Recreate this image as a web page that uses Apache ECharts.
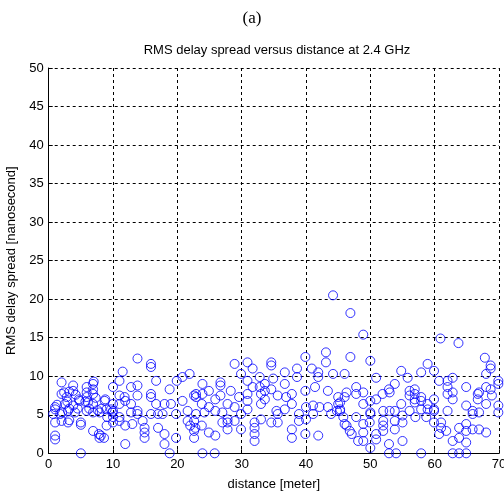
<!DOCTYPE html>
<html>
<head>
<meta charset="utf-8">
<script src="https://cdn.jsdelivr.net/npm/echarts@6/dist/echarts.min.js"></script>
<style>html,body{margin:0;padding:0;background:#fff;}#c{width:504px;height:496px;}</style>
</head>
<body>
<div id="c"></div>
<script>
const xTicks = [0, 10, 20, 30, 40, 50, 60, 70];
const yTicks = [0, 5, 10, 15, 20, 25, 30, 35, 40, 45, 50];
const distance = [
0.7,1,1,1,1,1,1.3,1.8,2,2,2,2.1,2.4,2.5,2.8,2.9,3,3,3.2,3.2,3.2,3.8,3.8,3.8,4.1,4.2,4.5,4.7,4.8,5,5,5,5.7,5.9,5.9,5.9,5.9,6.1,6.3,6.9,6.9,6.9,6.9,6.9,6.9,7.0,7.3,7.6,7.8,7.9,7.9,8.1,8.2,8.6,8.7,8.8,9,9,9.1,9.7,9.9,
10,10,10,10,10,11,11,11,11,11,11.5,11.8,11.9,11.9,11.9,12.8,12.8,12.8,13,13.8,13.8,13.8,13.8,13.8,14.6,14.9,14.9,14.9,15.9,15.9,15.9,15.9,15.9,16.7,16.7,17,17,17.7,18,18,18,18.8,18.8,19,19.8,19.8,19.9,
20.8,20.8,21.6,21.6,21.9,22,22.6,22.6,22.9,22.9,22.6,22.9,22.6,22.8,23.9,23.9,23.8,24.2,23.8,23.9,24.9,24.9,24.9,25.8,25.9,25.9,25.9,26.7,26.7,26.7,27,27,27.8,27.8,27.8,27.8,28.3,28.9,28.9,28.9,29.6,29.9,29.9,29.9,
30.9,30.9,30.9,30.9,30.9,31.7,31.7,32,32,32,32,32.8,32.8,33,33,33,33.6,33.6,33.6,34.6,34.6,34.9,34.6,34.6,35.4,35.6,35.6,35.6,36.7,36.7,36.9,36.7,37.8,37.8,37.8,38.6,38.6,38.9,38.9,37.8,39.9,39.9,40,40,39.9,
40.9,41.1,41.1,41.4,41.9,41.9,41.9,42.1,43.1,43.1,43.4,43.4,44.2,44.2,43.9,45,45,44.8,45.3,45.8,46,46.3,46.3,46.9,46.9,48.9,50,46,45.3,45.3,46,46.8,47.1,47.8,47.8,48.1,47.8,48.9,48.9,48.9,48.9,48.9,
50,50,50,50,49.9,50.9,50.9,50.9,50.9,51.9,52,52,52,52,52.9,53,53,52.9,52.9,53.8,53.8,53.8,53.8,54,54.8,54.8,55,55,55,55.8,56.1,56.1,56.1,56.9,56.9,56.9,56.9,57,57.9,57.9,57.9,57.9,57.9,58.9,58.9,58.9,58.7,59.9,59.9,59.9,59.9,59.9,
60.7,60.9,60.7,61,61,62,62,62,62,61.8,62.8,62.8,62.8,62.8,62.8,63.7,63.8,63.8,63.8,64.9,64.9,64.9,64.9,64.9,64.9,65.9,65.9,65.9,66.7,66.7,66.9,66.9,68,68,67.8,68.7,68.7,68,68.7,68.9,69.9,69.9,69.9,69.9,68,66.9
];
const delaySpread = [
5.1,6.0,5.7,4.0,2.3,1.8,6.3,5.1,9.2,7.7,4.2,5.3,7.9,6.4,7.3,6.7,5.5,4,8.0,5.8,4.3,8.8,8.1,6.2,5.3,7.6,5.8,7.0,6.8,4,3.7,0,6.7,7.9,8.6,7.3,5.5,6.6,5.8,9.0,8.3,7.7,6.4,5.3,2.9,9.3,7.2,5.6,2.5,5.3,2.0,2.3,5.8,2.0,6.8,7.0,3.6,5.7,4.7,5.7,5.3,
8.6,6.4,5.5,4.7,4.0,9.4,7.5,6.4,4.7,4.2,10.6,7.3,6.8,1.2,3.6,8.6,6.4,5.3,3.8,12.3,8.8,7.5,5.5,5.1,4.2,3.3,2.7,2.0,11.6,11.2,7.7,7.3,5.1,9.4,6.4,3.3,5.1,5.1,2.5,1.2,6.4,8.3,0,6.4,5.1,2.0,9.4,
9.9,6.8,5.5,4.2,10.3,3.6,2.9,2.0,7.7,7.3,7.5,5.1,4.2,3.3,9.0,7.7,6.4,5.3,3.6,0,8.1,6.0,2.7,0,7.0,5.5,2.3,9.2,8.8,7.5,5.3,4.0,6.4,4.4,4.0,3.1,8.1,11.6,6.0,4.2,7.3,10.3,5.1,3.1,
11.8,9.4,7.7,6.8,5.7,11.0,8.6,3.3,2.5,1.6,4.0,9.9,8.6,7.7,6.4,4.4,9.0,8.1,7.0,11.8,11.4,9.7,8.3,4.0,5.5,5.1,4.0,7.5,10.5,9.0,7.3,5.7,7.7,3.1,6.4,11.0,9.9,5.1,4.2,2.0,12.5,8.1,6.0,4.4,2.5,
11.0,6.2,5.1,8.6,2.3,10.5,9.9,6.0,13.1,11.8,8.1,6.0,20.5,10.3,5.1,7.3,6.4,5.5,5.5,4.7,10.3,7.9,3.6,18.2,12.5,15.4,12.0,7.3,6.6,5.7,3.8,2.9,2.5,8.6,7.7,1.6,4.7,7.9,6.4,3.8,2.7,1.6,
6.8,5.3,5.1,0.7,4.0,9.8,7.0,2.5,1.8,7.7,4.2,3.6,2.9,5.5,8.3,7.9,5.5,1.2,0,9.0,5.5,4.2,3.1,0,10.7,6.4,4.9,4.0,1.6,9.8,8.1,7.5,5.5,8.3,7.7,7.0,6.6,4.7,10.5,7.3,6.8,0,5.7,11.6,6.4,5.7,4.7,10.7,7.0,5.7,5.5,4.0,
9.4,14.9,2.5,4.0,3.3,9.4,8.6,7.7,5.5,2.9,9.8,7.9,7.0,1.6,0,14.3,3.3,2.0,0,8.6,6.2,3.8,2.9,1.4,0,5.5,5.1,3.1,7.7,7.0,5.3,3.1,6.4,2.7,12.4,11.4,11.0,10.3,8.3,7.5,9.4,9.0,6.2,5.3,8.6,7.9
];
const points = distance.map((d, i) => [d, delaySpread[i]]);

const chart = echarts.init(document.getElementById('c'), null, {renderer: 'canvas'});
const font = 'Liberation Sans, Arial, sans-serif';
chart.setOption({
  animation: false,
  backgroundColor: '#fff',
  title: [
    {text: '(a)', left: 'center', top: 5, textStyle: {fontFamily: 'Liberation Serif, Times New Roman, serif', fontSize: 17, fontWeight: 'normal', color: '#000'}},
    {text: 'RMS delay spread versus distance at 2.4 GHz', left: 272, textAlign: 'center', top: 39, textStyle: {fontFamily: font, fontSize: 13, fontWeight: 'normal', color: '#000'}}
  ],
  grid: {left: 48.7, right: 5, top: 68, bottom: 42.7, containLabel: false, outerBoundsMode: 'none'},
  xAxis: {
    type: 'value', min: xTicks[0], max: xTicks[xTicks.length - 1], interval: 10,
    name: 'distance [meter]', nameLocation: 'middle', nameGap: 25,
    nameTextStyle: {fontFamily: font, fontSize: 13, color: '#000'},
    axisLine: {show: true, lineStyle: {color: '#000', width: 1}},
    axisTick: {show: true, inside: true, length: 4, lineStyle: {color: '#000'}},
    axisLabel: {fontFamily: font, fontSize: 13, color: '#000', margin: 5, hideOverlap: false},
    splitLine: {show: true, lineStyle: {color: '#000', type: [3, 3], width: 1}}
  },
  yAxis: {
    type: 'value', min: yTicks[0], max: yTicks[yTicks.length - 1], interval: 5,
    name: 'RMS delay spread [nanosecond]', nameLocation: 'middle', nameGap: 30,
    nameTextStyle: {fontFamily: font, fontSize: 13, color: '#000'},
    axisLine: {show: true, lineStyle: {color: '#000', width: 1}},
    axisTick: {show: true, inside: true, length: 4, lineStyle: {color: '#000'}},
    axisLabel: {fontFamily: font, fontSize: 13, color: '#000', margin: 5},
    splitLine: {show: true, lineStyle: {color: '#000', type: [3, 3], width: 1}}
  },
  series: [{
    type: 'scatter',
    data: points,
    symbol: 'circle',
    symbolSize: 9,
    clip: true,
    itemStyle: {color: 'rgba(0,0,0,0)', borderColor: '#0000ff', borderWidth: 1}
  }]
});
</script>
</body>
</html>
